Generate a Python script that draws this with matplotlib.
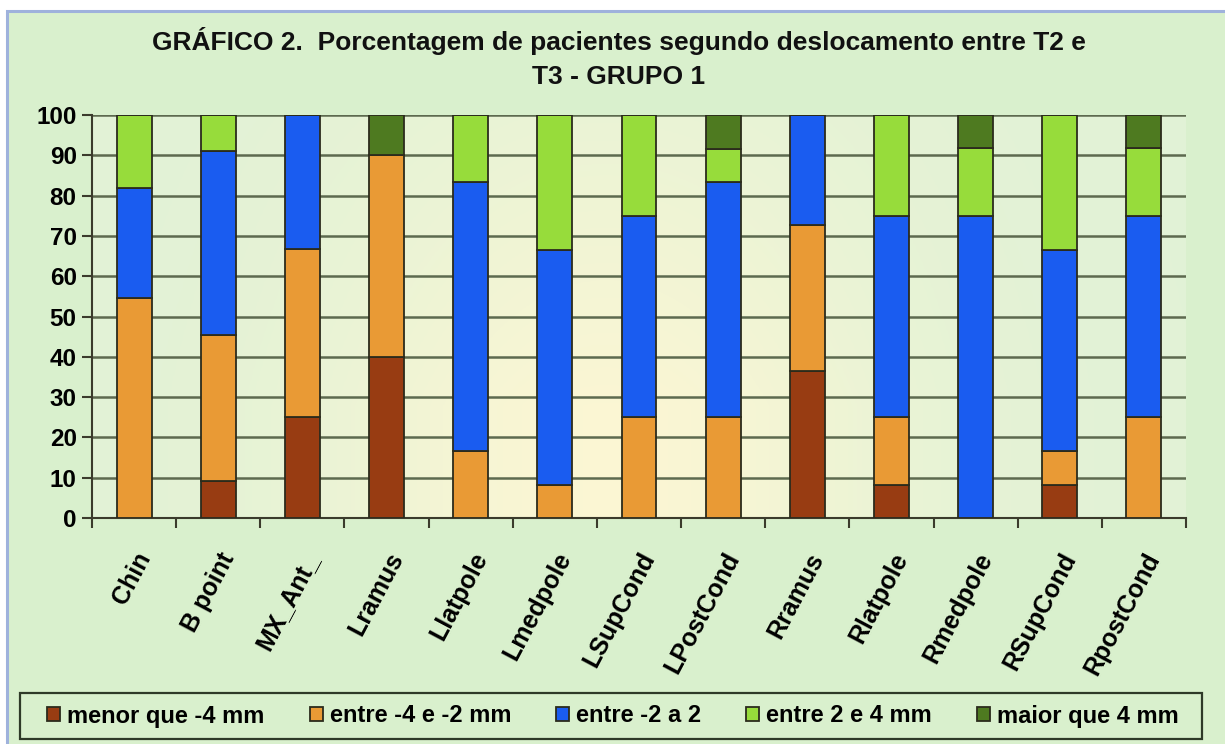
import matplotlib
matplotlib.use("Agg")
import matplotlib.pyplot as plt
import matplotlib.patches as mpatches
import matplotlib.transforms as mtransforms
import numpy as np

# ── Dados ─────────────────────────────────────────────────────────────────────
CATEGORIAS = ["Chin", "B point", "MX_Ant_", "Lramus", "Llatpole", "Lmedpole",
              "LSupCond", "LPostCond", "Rramus", "Rlatpole", "Rmedpole",
              "RSupCond", "RpostCond"]

menor_m4   = [0, 9.1, 25, 40, 0, 0, 0, 0, 36.4, 8.3, 0, 8.3, 0]
entre_m4m2 = [54.5, 36.4, 41.7, 50, 16.7, 8.3, 25, 25, 36.4, 16.7, 0, 8.3, 25]
entre_m2p2 = [27.3, 45.5, 33.3, 0, 66.7, 58.3, 50, 58.3, 27.3, 50, 75, 50, 50]
entre_2p4  = [18.2, 9.1, 0, 0, 16.7, 33.3, 25, 8.3, 0, 25, 16.7, 33.3, 16.7]
maior_4    = [0, 0, 0, 10, 0, 0, 0, 8.3, 0, 0, 8.3, 0, 8.3]

SERIES = [
    ("menor que -4 mm",   menor_m4,   "#983c12"),
    ("entre -4 e -2 mm",  entre_m4m2, "#e99a35"),
    ("entre -2 a 2",      entre_m2p2, "#1a5cf0"),
    ("entre 2 e 4 mm",    entre_2p4,  "#97dc3b"),
    ("maior que 4 mm",    maior_4,    "#4e7a20"),
]

plt.rcParams["font.family"] = ["Liberation Sans", "DejaVu Sans"]
plt.rcParams["font.weight"] = "bold"

W, H = 1225, 744
fig = plt.figure(figsize=(W / 100, H / 100), dpi=100, facecolor="white")

# moldura externa com fundo verde
fig.patches.append(mpatches.Rectangle((7 / W, -0.1), 1.2, 0.1 + 1 - 11 / H,
                                      transform=fig.transFigure,
                                      facecolor="#d9f0cd", edgecolor="#9fb2dc",
                                      linewidth=2.2, zorder=-10))

ax = fig.add_axes([92 / W, 1 - 518 / H, (1186 - 92) / W, (518 - 115) / H])
ax.set_facecolor("none")

# fundo da área de plotagem: verde nas bordas, creme no meio
gx, gy = np.meshgrid(np.linspace(0, 1, 300), np.linspace(1, 0, 200))
w = np.exp(-((gx - 0.47) / 0.26) ** 2) * np.clip(0.35 + (1 - gy) * 0.9, 0, 1)
verde = np.array([0.885, 0.950, 0.840])
creme = np.array([0.985, 0.965, 0.830])
grad = verde[None, None, :] * (1 - w[..., None]) + creme[None, None, :] * w[..., None]
ax.imshow(grad, extent=(0, 1, 0, 1), transform=ax.transAxes, aspect="auto", zorder=0)

x = np.arange(len(CATEGORIAS))
base = np.zeros(len(CATEGORIAS))
for nome, vals, cor in SERIES:
    ax.bar(x, vals, width=0.415, bottom=base, color=cor, edgecolor="#2b2b1c",
           linewidth=1.3, label=nome, zorder=3)
    base += np.array(vals)

ax.set_xlim(-0.5, len(CATEGORIAS) - 0.5)
ax.set_ylim(0, 100)
ax.set_yticks(range(0, 101, 10))
ax.yaxis.grid(True, color="#5d6a4f", linewidth=1.8)
ax.set_axisbelow(True)

ax.set_xticks(x)
ax.set_xticklabels(CATEGORIAS, rotation=62, ha="right", va="top",
                   rotation_mode="anchor", fontsize=18, fontweight="bold")
# leve deslocamento para a esquerda, como no Excel
desloc = mtransforms.ScaledTranslation(-8 / 100, 0, fig.dpi_scale_trans)
for lab in ax.get_xticklabels():
    lab.set_transform(lab.get_transform() + desloc)
ax.set_xticks(np.arange(-0.5, len(CATEGORIAS)), minor=True)
ax.tick_params(axis="x", which="major", length=0, pad=22)
ax.tick_params(axis="x", which="minor", length=7, width=1.5, color="#3b3b2c")
ax.tick_params(axis="y", length=7, width=1.5, color="#3b3b2c", labelsize=17.5, pad=4)
for lab in ax.get_yticklabels():
    lab.set_fontweight("bold")

for s in ["top", "right"]:
    ax.spines[s].set_visible(False)
for s in ["left", "bottom"]:
    ax.spines[s].set_color("#3b3b2c")
    ax.spines[s].set_linewidth(1.5)

fig.text(0.505, 1 - 58 / H,
         "GRÁFICO 2.  Porcentagem de pacientes segundo deslocamento entre T2 e\nT3 - GRUPO 1",
         ha="center", va="center", fontsize=19, fontweight="bold",
         linespacing=1.55, color="#111111")

# legenda com caixa própria
fig.patches.append(mpatches.Rectangle((20 / W, 1 - 739 / H), (1202 - 20) / W, 46 / H,
                                      transform=fig.transFigure, facecolor="none",
                                      edgecolor="#2f3a28", linewidth=1.6, zorder=5))
fig.legend(loc="center", bbox_to_anchor=(613 / W, 1 - 716 / H), ncol=5,
           frameon=False, handlelength=0.55, handleheight=0.55,
           handletextpad=0.3, columnspacing=1.9, prop={"weight": "bold", "size": 17})

fig.savefig("out.png", dpi=100, facecolor=fig.get_facecolor())
